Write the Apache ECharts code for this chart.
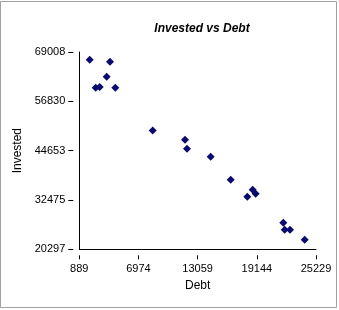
<!DOCTYPE html>
<html>
<head>
<meta charset="utf-8">
<script src="https://cdn.jsdelivr.net/npm/echarts@6/dist/echarts.min.js"></script>
<style>html,body{margin:0;padding:0;background:#fff}#c{width:339px;height:310px}</style>
</head>
<body>
<div id="c"></div>
<script>
const debt = [1958, 4046, 3707, 2575, 2987, 4591, 8437, 11758, 11964, 14401, 16458, 18164, 18720, 19028, 21866, 22010, 22555, 24067];
const invested = [67109, 66615, 62912, 60196, 60369, 60196, 49629, 47357, 45135, 43160, 37481, 33284, 35012, 34025, 26865, 25136, 25136, 22667];
const xTicks = [889, 6974, 13059, 19144, 25229];
const yTicks = [20297, 32475, 44653, 56830, 69008];

const chart = echarts.init(document.getElementById('c'), null, {renderer: 'canvas'});
const font = 'Arial, "Liberation Sans", sans-serif';
const tickAxis = (n, pos, len) => ({
  type: 'value', position: pos, min: 0, max: n - 1, interval: 1, offset: 6,
  axisLine: {show: false}, axisLabel: {show: false}, splitLine: {show: false},
  axisTick: {show: true, inside: false, length: len, lineStyle: {color: '#000', width: 1}}
});
chart.setOption({
  animation: false,
  backgroundColor: '#ffffff',
  title: {
    text: 'Invested vs Debt',
    left: 197, top: 18,
    textAlign: 'center',
    textStyle: {fontFamily: font, fontSize: 12, fontWeight: 'bold', fontStyle: 'italic', color: '#000'}
  },
  graphic: [{
    type: 'rect', shape: {x: 0.5, y: 1.5, width: 336, height: 306},
    style: {fill: 'none', stroke: '#a0a0a0', lineWidth: 1}, silent: true
  }],
  grid: {left: 79.3, right: 23, top: 52, bottom: 60.7},
  xAxis: [{
    type: 'value', position: 'bottom', min: xTicks[0], max: xTicks[xTicks.length - 1],
    offset: 6,
    name: 'Debt', nameLocation: 'middle', nameGap: 22,
    nameTextStyle: {fontFamily: font, fontSize: 12, color: '#000'},
    axisLine: {show: true, lineStyle: {color: '#000', width: 1}},
    axisTick: {show: false},
    axisLabel: {customValues: xTicks, formatter: v => String(v), fontFamily: font, fontSize: 11, color: '#000', margin: 8},
    splitLine: {show: false}
  }, tickAxis(xTicks.length, 'bottom', 4)],
  yAxis: [{
    type: 'value', position: 'left', min: yTicks[0], max: yTicks[yTicks.length - 1],
    offset: 6,
    name: 'Invested', nameLocation: 'middle', nameGap: 45,
    nameTextStyle: {fontFamily: font, fontSize: 12, color: '#000'},
    axisLine: {show: true, lineStyle: {color: '#000', width: 1}},
    axisTick: {show: false},
    axisLabel: {customValues: yTicks, formatter: v => String(v), fontFamily: font, fontSize: 11, color: '#000', margin: 8},
    splitLine: {show: false}
  }, tickAxis(yTicks.length, 'left', 5)],
  series: [{
    type: 'scatter',
    xAxisIndex: 0, yAxisIndex: 0,
    symbol: 'diamond',
    symbolSize: 8,
    itemStyle: {color: '#0a0a6e', opacity: 1},
    data: debt.map((d, i) => [d, invested[i]])
  }]
});
</script>
</body>
</html>
